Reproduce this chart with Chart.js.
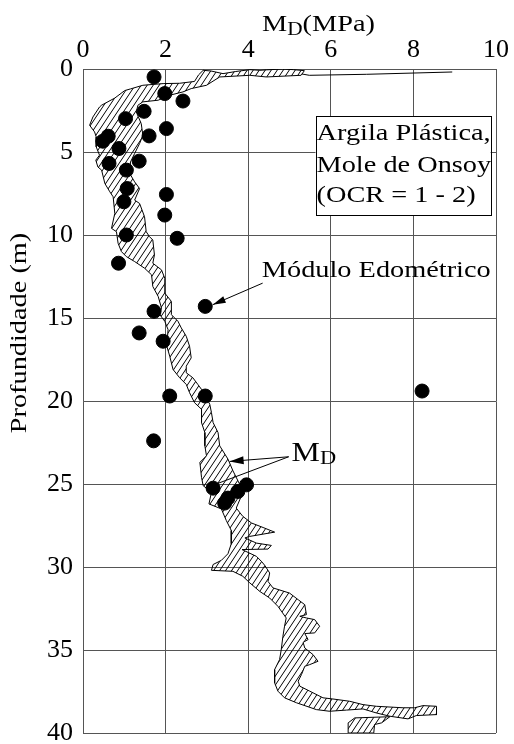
<!DOCTYPE html>
<html>
<head>
<meta charset="utf-8">
<script src="https://cdn.jsdelivr.net/npm/chart.js@4.4.1/dist/chart.umd.min.js"></script>
<style>
    body { margin: 0; background: #fff; }
    #Caixa { width: 514px; height: 744px; }
</style>
</head>
<body>
<div id="Caixa"><canvas id="ChartMD"></canvas></div>
<script>

// eixos
const ticksMD = [0, 2, 4, 6, 8, 10];
const ticksProf = [0, 5, 10, 15, 20, 25, 30, 35, 40];

// modulo edometrico [MPa, m]
const modEdometrico = [
    [1.72, 0.48], [1.98, 1.48], [2.42, 1.93], [1.48, 2.55], [1.03, 2.99], [2.02, 3.59],
    [1.60, 4.03], [0.61, 4.05], [0.48, 4.35], [0.87, 4.79], [1.36, 5.55], [0.63, 5.69],
    [1.05, 6.09], [1.07, 7.20], [2.02, 7.56], [0.99, 8.00], [1.98, 8.80], [1.05, 10.0],
    [2.28, 10.2], [0.86, 11.7], [2.96, 14.3], [1.72, 14.6], [1.36, 15.9], [1.94, 16.4],
    [2.10, 19.7], [2.96, 19.7], [8.21, 19.4], [1.71, 22.4], [3.96, 25.05], [3.75, 25.45],
    [3.51, 25.85], [3.43, 26.15], [3.15, 25.25]
];

// faixa do DMT (contorno fechado) [MPa, m]
const faixaMD = [
    [5.36, 0.10], [5.10, 0.04], [4.84, 0.00], [4.45, 0.05], [4.28, 0.08], [4.04, 0.04], [3.70, 0.15],
    [3.39, 0.28], [3.10, 0.12], [2.91, 0.08], [2.80, 0.35], [2.70, 0.75], [2.34, 0.86], [1.94, 0.88],
    [1.45, 0.98], [1.15, 1.20], [1.01, 1.30], [0.77, 1.75], [0.45, 2.18], [0.40, 2.29], [0.24, 2.89],
    [0.16, 3.39], [0.28, 3.79], [0.32, 4.09], [0.32, 4.69], [0.40, 5.19], [0.31, 5.49], [0.36, 5.90],
    [0.45, 6.09], [0.53, 6.90], [0.65, 7.40], [0.73, 7.70], [0.77, 8.70], [0.69, 9.60], [0.81, 9.80],
    [0.85, 10.5], [0.93, 11.0], [1.05, 11.3], [1.25, 11.6], [1.49, 12.0], [1.66, 12.4], [1.69, 13.1],
    [1.82, 13.7], [1.90, 14.4], [1.86, 14.8], [1.98, 15.2], [2.06, 15.7], [2.03, 16.7], [2.10, 17.3],
    [2.18, 18.1], [2.34, 18.6], [2.50, 19.0], [2.58, 19.5], [2.70, 20.1], [2.87, 20.5], [2.87, 21.3],
    [2.95, 21.9], [2.95, 22.7], [2.99, 23.3], [2.83, 23.7], [2.87, 24.6], [2.91, 25.1], [3.11, 25.5],
    [3.05, 26.2], [3.35, 26.5], [3.47, 27.2], [3.59, 27.8], [3.59, 28.6], [3.51, 29.2], [3.35, 29.6],
    [3.15, 29.85], [3.11, 30.2], [3.63, 30.26], [3.87, 30.56], [4.04, 30.96], [4.28, 31.47], [4.52, 31.87],
    [4.72, 32.37], [4.92, 33.07], [4.88, 33.57], [4.84, 34.18], [4.80, 34.98], [4.76, 35.58], [4.64, 36.18],
    [4.64, 36.98], [4.72, 37.48], [4.88, 37.88], [5.17, 38.18], [5.65, 38.59], [5.97, 38.69], [6.38, 38.62],
    [6.78, 38.55], [7.10, 38.79], [7.43, 38.99], [7.87, 39.15], [8.07, 38.95], [8.57, 38.89], [8.56, 38.39],
    [8.23, 38.35], [8.03, 38.48], [7.75, 38.48], [7.10, 38.39], [6.78, 38.29], [6.46, 38.09], [6.05, 37.95],
    [5.81, 37.88], [5.49, 37.48], [5.25, 37.18], [5.21, 36.88], [5.29, 36.48], [5.37, 35.98], [5.49, 35.88],
    [5.69, 35.68], [5.57, 35.28], [5.37, 34.88], [5.33, 34.54], [5.45, 34.37], [5.37, 34.01], [5.61, 33.97],
    [5.73, 33.57], [5.61, 33.17], [5.41, 33.07], [5.25, 32.97], [5.41, 32.87], [5.37, 32.27], [5.21, 31.97],
    [5.00, 31.57], [4.60, 31.26], [4.48, 30.87], [4.52, 30.36], [4.40, 29.90], [4.32, 29.66], [4.20, 29.36],
    [3.85, 28.95], [4.48, 28.92], [4.56, 28.70], [4.20, 28.56], [3.92, 28.25], [4.03, 28.16], [4.64, 27.90],
    [4.36, 27.62], [4.08, 27.35], [3.87, 26.95], [3.71, 26.45], [3.83, 25.75], [3.79, 25.00], [3.63, 24.20],
    [3.51, 23.50], [3.31, 22.70], [3.27, 21.90], [3.15, 21.30], [3.11, 20.70], [3.07, 20.20], [2.95, 19.60],
    [2.87, 19.30], [2.78, 19.00], [2.66, 18.60], [2.50, 18.30], [2.50, 17.90], [2.62, 17.40], [2.58, 16.70],
    [2.50, 16.10], [2.38, 15.60], [2.30, 15.20], [2.14, 14.80], [2.14, 14.00], [1.98, 13.50], [1.98, 12.60],
    [1.90, 12.10], [1.69, 11.70], [1.73, 11.20], [1.69, 10.30], [1.61, 10.10], [1.53, 9.80], [1.49, 8.90],
    [1.37, 8.10], [1.25, 7.90], [1.37, 7.20], [1.25, 6.80], [1.13, 6.29], [1.15, 5.60], [1.25, 5.09],
    [1.37, 4.49], [1.45, 3.99], [1.41, 3.29], [1.29, 2.59], [1.33, 2.18], [1.45, 1.98], [1.82, 1.88],
    [2.10, 1.58], [2.42, 1.38], [2.62, 1.18], [2.99, 0.98], [3.31, 0.48], [4.04, 0.38], [4.44, 0.48],
    [5.28, 0.38], [5.36, 0.10]
];

// pedaco solto no fundo
const faixaMDBase = [
    [6.42, 40.0], [6.42, 39.39], [6.58, 39.09], [7.43, 39.02], [7.23, 39.39], [7.06, 39.49], [7.04, 40.0], [6.42, 40.0]
];

// linha fina no topo
const linhaMDTopo = [[5.30, 0.30], [5.48, 0.38], [6.86, 0.32], [8.94, 0.18]];

const FONTE = '"Liberation Serif", "Times New Roman", serif';
const ESTICA = 1.18;

const pts = (arr) => arr.map(p => ({ x: p[0], y: p[1] }));

const Hachura = () => {
    const c = document.createElement('canvas');
    c.width = 6;
    c.height = 9;
    const g = c.getContext('2d');
    g.strokeStyle = '#000';
    g.lineWidth = 1;
    for (let k = -1; k <= 1; k++) {
        g.beginPath();
        g.moveTo(k * 6, 9);
        g.lineTo(k * 6 + 6, 0);
        g.stroke();
    }
    return g.createPattern(c, 'repeat');
};

const Texto = (ctx, str, x, y, size, sx) => {
    ctx.save();
    ctx.font = size + 'px ' + FONTE;
    ctx.fillStyle = '#000';
    ctx.textAlign = 'left';
    ctx.textBaseline = 'alphabetic';
    ctx.translate(x, y);
    ctx.scale(sx, 1);
    ctx.fillText(str, 0, 0);
    const w = ctx.measureText(str).width * sx;
    ctx.restore();
    return w;
};

const Seta = (ctx, x1, y1, x2, y2, comp, larg) => {
    const a = Math.atan2(y2 - y1, x2 - x1);
    ctx.save();
    ctx.strokeStyle = '#000';
    ctx.fillStyle = '#000';
    ctx.lineWidth = 1;
    ctx.beginPath();
    ctx.moveTo(x1, y1);
    ctx.lineTo(x2, y2);
    ctx.stroke();
    if (comp > 0) {
        ctx.beginPath();
        ctx.moveTo(x2, y2);
        ctx.lineTo(x2 - comp * Math.cos(a) + larg * Math.sin(a), y2 - comp * Math.sin(a) - larg * Math.cos(a));
        ctx.lineTo(x2 - comp * Math.cos(a) - larg * Math.sin(a), y2 - comp * Math.sin(a) + larg * Math.cos(a));
        ctx.closePath();
        ctx.fill();
    }
    ctx.restore();
};

// titulos, caixa de legenda e setas
const anotacoes = {
    id: 'anotacoes',
    afterDatasetsDraw(chart) {
        const ctx = chart.ctx;
        const X = v => chart.scales.x.getPixelForValue(v);
        const Y = v => chart.scales.y.getPixelForValue(v);

        // caixa
        const bx = X(5.63), by = Y(2.83), bw = X(9.87) - bx, bh = Y(8.80) - by;
        ctx.save();
        ctx.fillStyle = '#fff';
        ctx.fillRect(bx, by, bw, bh);
        ctx.strokeStyle = '#000';
        ctx.lineWidth = 1;
        ctx.strokeRect(Math.round(bx) + 0.5, Math.round(by) + 0.5, Math.round(bw), Math.round(bh));
        ctx.restore();
        Texto(ctx, 'Argila Plástica,', bx + 1, Y(4.29), 24, ESTICA);
        Texto(ctx, 'Mole de Onsoy', bx + 1, Y(6.20), 24, ESTICA);
        Texto(ctx, '(OCR = 1 - 2)', bx + 1, Y(8.00), 24, ESTICA);

        // Modulo Edometrico
        Texto(ctx, 'Módulo Edométrico', X(4.33), Y(12.52), 24, ESTICA);
        Seta(ctx, X(4.35), Y(12.9), X(3.14), Y(14.2), 13, 3.5);

        // MD
        const mx = X(5.05), my = Y(23.6);
        const wm = Texto(ctx, 'M', mx, my, 27, ESTICA);
        Texto(ctx, 'D', mx + wm, my + 3, 19, ESTICA);
        Seta(ctx, X(4.98), Y(23.36), X(3.55), Y(23.64), 14, 4);
        Seta(ctx, X(4.98), Y(23.36), X(3.12), Y(25.1), 0, 0);

        // titulo do eixo x
        const w1 = Texto(ctx, 'M', 262, 31, 24, ESTICA);
        const w2 = Texto(ctx, 'D', 262 + w1, 35, 18, ESTICA);
        Texto(ctx, '(MPa)', 262 + w1 + w2, 31, 24, ESTICA);

        // titulo do eixo y
        ctx.save();
        ctx.translate(26, 333);
        ctx.rotate(-Math.PI / 2);
        ctx.scale(ESTICA, 1);
        ctx.font = '24px ' + FONTE;
        ctx.fillStyle = '#000';
        ctx.textAlign = 'center';
        ctx.textBaseline = 'alphabetic';
        ctx.fillText('Profundidade (m)', 0, 0);
        ctx.restore();
    }
};

var ctxMD = document.getElementById('ChartMD');
var ChartMD = new Chart(ctxMD, {
    type: 'scatter',
    data: {
        datasets: [{
            label: 'Módulo Edométrico',
            data: pts(modEdometrico),
            pointRadius: 7,
            pointBackgroundColor: '#000',
            pointBorderColor: '#000',
            pointBorderWidth: 1
        }, {
            label: 'MD',
            data: pts(faixaMD),
            showLine: true,
            fill: 'shape',
            backgroundColor: Hachura(),
            borderColor: '#000',
            borderWidth: 1,
            pointRadius: 0,
            tension: 0
        }, {
            label: 'MD base',
            data: pts(faixaMDBase),
            showLine: true,
            fill: 'shape',
            backgroundColor: Hachura(),
            borderColor: '#000',
            borderWidth: 1,
            pointRadius: 0,
            tension: 0
        }, {
            label: 'MD topo',
            data: pts(linhaMDTopo),
            showLine: true,
            fill: false,
            borderColor: '#000',
            borderWidth: 1,
            pointRadius: 0,
            tension: 0
        }]
    },
    options: {
        responsive: true,
        maintainAspectRatio: false,
        animation: false,
        layout: {
            padding: { top: 0, left: 0, right: 18, bottom: 11 }
        },
        plugins: {
            legend: { display: false },
            tooltip: { enabled: false }
        },
        scales: {
            x: {
                type: 'linear',
                position: 'top',
                min: 0,
                max: 10,
                afterBuildTicks: (s) => { s.ticks = ticksMD.map(v => ({ value: v })); },
                afterFit: (s) => { s.height = 69; s.paddingLeft = 0; s.paddingRight = 0; },
                ticks: { font: { family: FONTE, size: 26 }, color: '#000', padding: 3 },
                grid: { color: '#555', lineWidth: 1, drawTicks: false },
                border: { color: '#555' }
            },
            y: {
                type: 'linear',
                reverse: true,
                min: 0,
                max: 40,
                afterBuildTicks: (s) => { s.ticks = ticksProf.map(v => ({ value: v })); },
                afterFit: (s) => { s.width = 83; s.paddingTop = 0; s.paddingBottom = 0; },
                ticks: { font: { family: FONTE, size: 26 }, color: '#000', padding: 10 },
                grid: { color: '#555', lineWidth: 1, drawTicks: false },
                border: { color: '#555' }
            }
        }
    },
    plugins: [anotacoes]
});

</script>
</body>
</html>
